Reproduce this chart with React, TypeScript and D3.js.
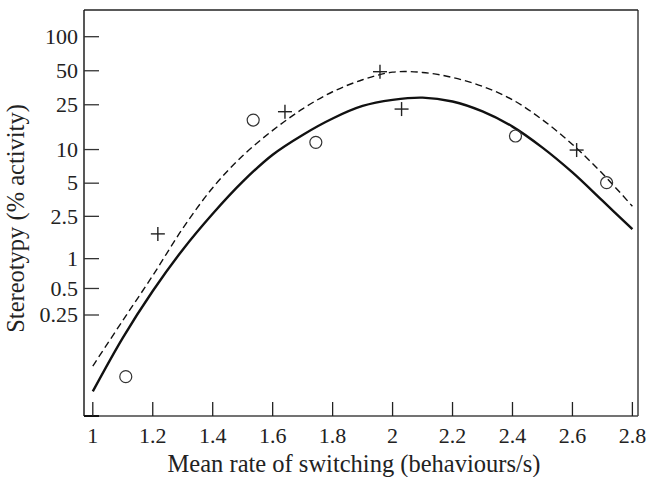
import React from "react";
import * as d3 from "d3";

const xTicks = [1, 1.2, 1.4, 1.6, 1.8, 2, 2.2, 2.4, 2.6, 2.8];
const xTickLabels = ["1", "1.2", "1.4", "1.6", "1.8", "2", "2.2", "2.4", "2.6", "2.8"];
const yTicks = [100, 50, 25, 10, 5, 2.5, 1, 0.5, 0.25];
const yTickLabels = ["100", "50", "25", "10", "5", "2.5", "1", "0.5", "0.25"];

const curveX = [1.0, 1.1, 1.2, 1.3, 1.4, 1.5, 1.6, 1.7, 1.8, 1.9, 2.0, 2.1, 2.2, 2.3, 2.4, 2.5, 2.6, 2.7, 2.8];
const solidCurve = [-0.035, 0.12, 0.47, 1.22, 2.64, 5.16, 9.0, 13.5, 18.9, 24.4, 27.6, 28.9, 26.7, 21.8, 16.0, 10.4, 6.24, 3.47, 1.9];
const dashedCurve = [0.024, 0.213, 0.68, 1.93, 4.55, 8.8, 14.8, 23.0, 32.6, 41.6, 48.6, 48.3, 43.6, 36.4, 27.7, 18.4, 11.1, 6.1, 3.09];

const circleX = [1.11, 1.535, 1.744, 2.41, 2.714];
const circleY = [0, 18.3, 11.6, 13.2, 5.05];
const plusX = [1.217, 1.641, 1.958, 2.03, 2.614];
const plusY = [1.72, 21.7, 49.05, 22.9, 9.9];

const W = 646;
const H = 477;
const FRAME = { left: 84, right: 638, top: 10, bottom: 416 };
const FONT = "'Liberation Serif', 'Times New Roman', serif";

export default function App() {
  const x = d3.scaleLinear().domain([1, 2.8]).range([92.8, 632.4]);
  const y = d3.scaleSymlog().constant(0.1).domain([0.25, 100]).range([315, 36.7]);

  const line = d3
    .line<number>()
    .x((_, i) => x(curveX[i]))
    .y((d) => y(d))
    .curve(d3.curveCatmullRom.alpha(0.5));

  const solidPath = line(solidCurve) || "";
  const dashedPath = line(dashedCurve) || "";

  return (
    <svg
      width={W}
      height={H}
      style={{ position: "absolute", left: 0, top: 0, background: "#fff" }}
    >
      <rect x={0} y={0} width={W} height={H} fill="#fff" />
      {/* frame */}
      <line x1={FRAME.left} x2={FRAME.right} y1={FRAME.top} y2={FRAME.top} stroke="#222" strokeWidth={1.3} />
      <line x1={FRAME.right} x2={FRAME.right} y1={FRAME.top} y2={FRAME.bottom} stroke="#222" strokeWidth={1.3} />
      <line x1={FRAME.left} x2={FRAME.right} y1={FRAME.bottom} y2={FRAME.bottom} stroke="#444" strokeWidth={1.3} />
      <line x1={FRAME.left} x2={FRAME.left} y1={FRAME.top} y2={FRAME.bottom} stroke="#111" strokeWidth={1.4} />
      <line x1={FRAME.left} x2={FRAME.left + 15} y1={FRAME.bottom} y2={FRAME.bottom} stroke="#111" strokeWidth={2} />

      {/* y ticks */}
      {yTicks.map((t, i) => (
        <g key={"yt" + i}>
          <line x1={FRAME.left} x2={FRAME.left + 15} y1={y(t)} y2={y(t)} stroke="#333" strokeWidth={1.3} />
          <text
            x={FRAME.left - 6}
            y={y(t)}
            dy="0.33em"
            textAnchor="end"
            fontFamily={FONT}
            fontSize={22}
            fill="#222"
          >
            {yTickLabels[i]}
          </text>
        </g>
      ))}

      {/* x ticks */}
      {xTicks.map((t, i) => (
        <g key={"xt" + i}>
          <line x1={x(t)} x2={x(t)} y1={FRAME.bottom} y2={FRAME.bottom - 14} stroke="#222" strokeWidth={1.3} />
          <text
            x={x(t)}
            y={443}
            textAnchor="middle"
            fontFamily={FONT}
            fontSize={22}
            fill="#222"
          >
            {xTickLabels[i]}
          </text>
        </g>
      ))}

      {/* curves */}
      <path d={dashedPath} fill="none" stroke="#111" strokeWidth={1.4} strokeDasharray="7,4" />
      <path d={solidPath} fill="none" stroke="#111" strokeWidth={2.4} />

      {/* circles */}
      {circleX.map((cx, i) => (
        <circle key={"c" + i} cx={x(cx)} cy={y(circleY[i])} r={6} fill="none" stroke="#333" strokeWidth={1.2} />
      ))}

      {/* plus markers */}
      {plusX.map((px, i) => {
        const cx = x(px);
        const cy = y(plusY[i]);
        return (
          <g key={"p" + i} stroke="#222" strokeWidth={1.4}>
            <line x1={cx - 7} x2={cx + 7} y1={cy} y2={cy} />
            <line x1={cx} x2={cx} y1={cy - 7} y2={cy + 7} />
          </g>
        );
      })}

      {/* axis titles */}
      <text x={354} y={472} textAnchor="middle" fontFamily={FONT} fontSize={24.5} fill="#222">
        Mean rate of switching (behaviours/s)
      </text>
      <text
        transform="translate(24,218.5) rotate(-90)"
        textAnchor="middle"
        fontFamily={FONT}
        fontSize={24.5}
        fill="#222"
      >
        Stereotypy (% activity)
      </text>
    </svg>
  );
}
